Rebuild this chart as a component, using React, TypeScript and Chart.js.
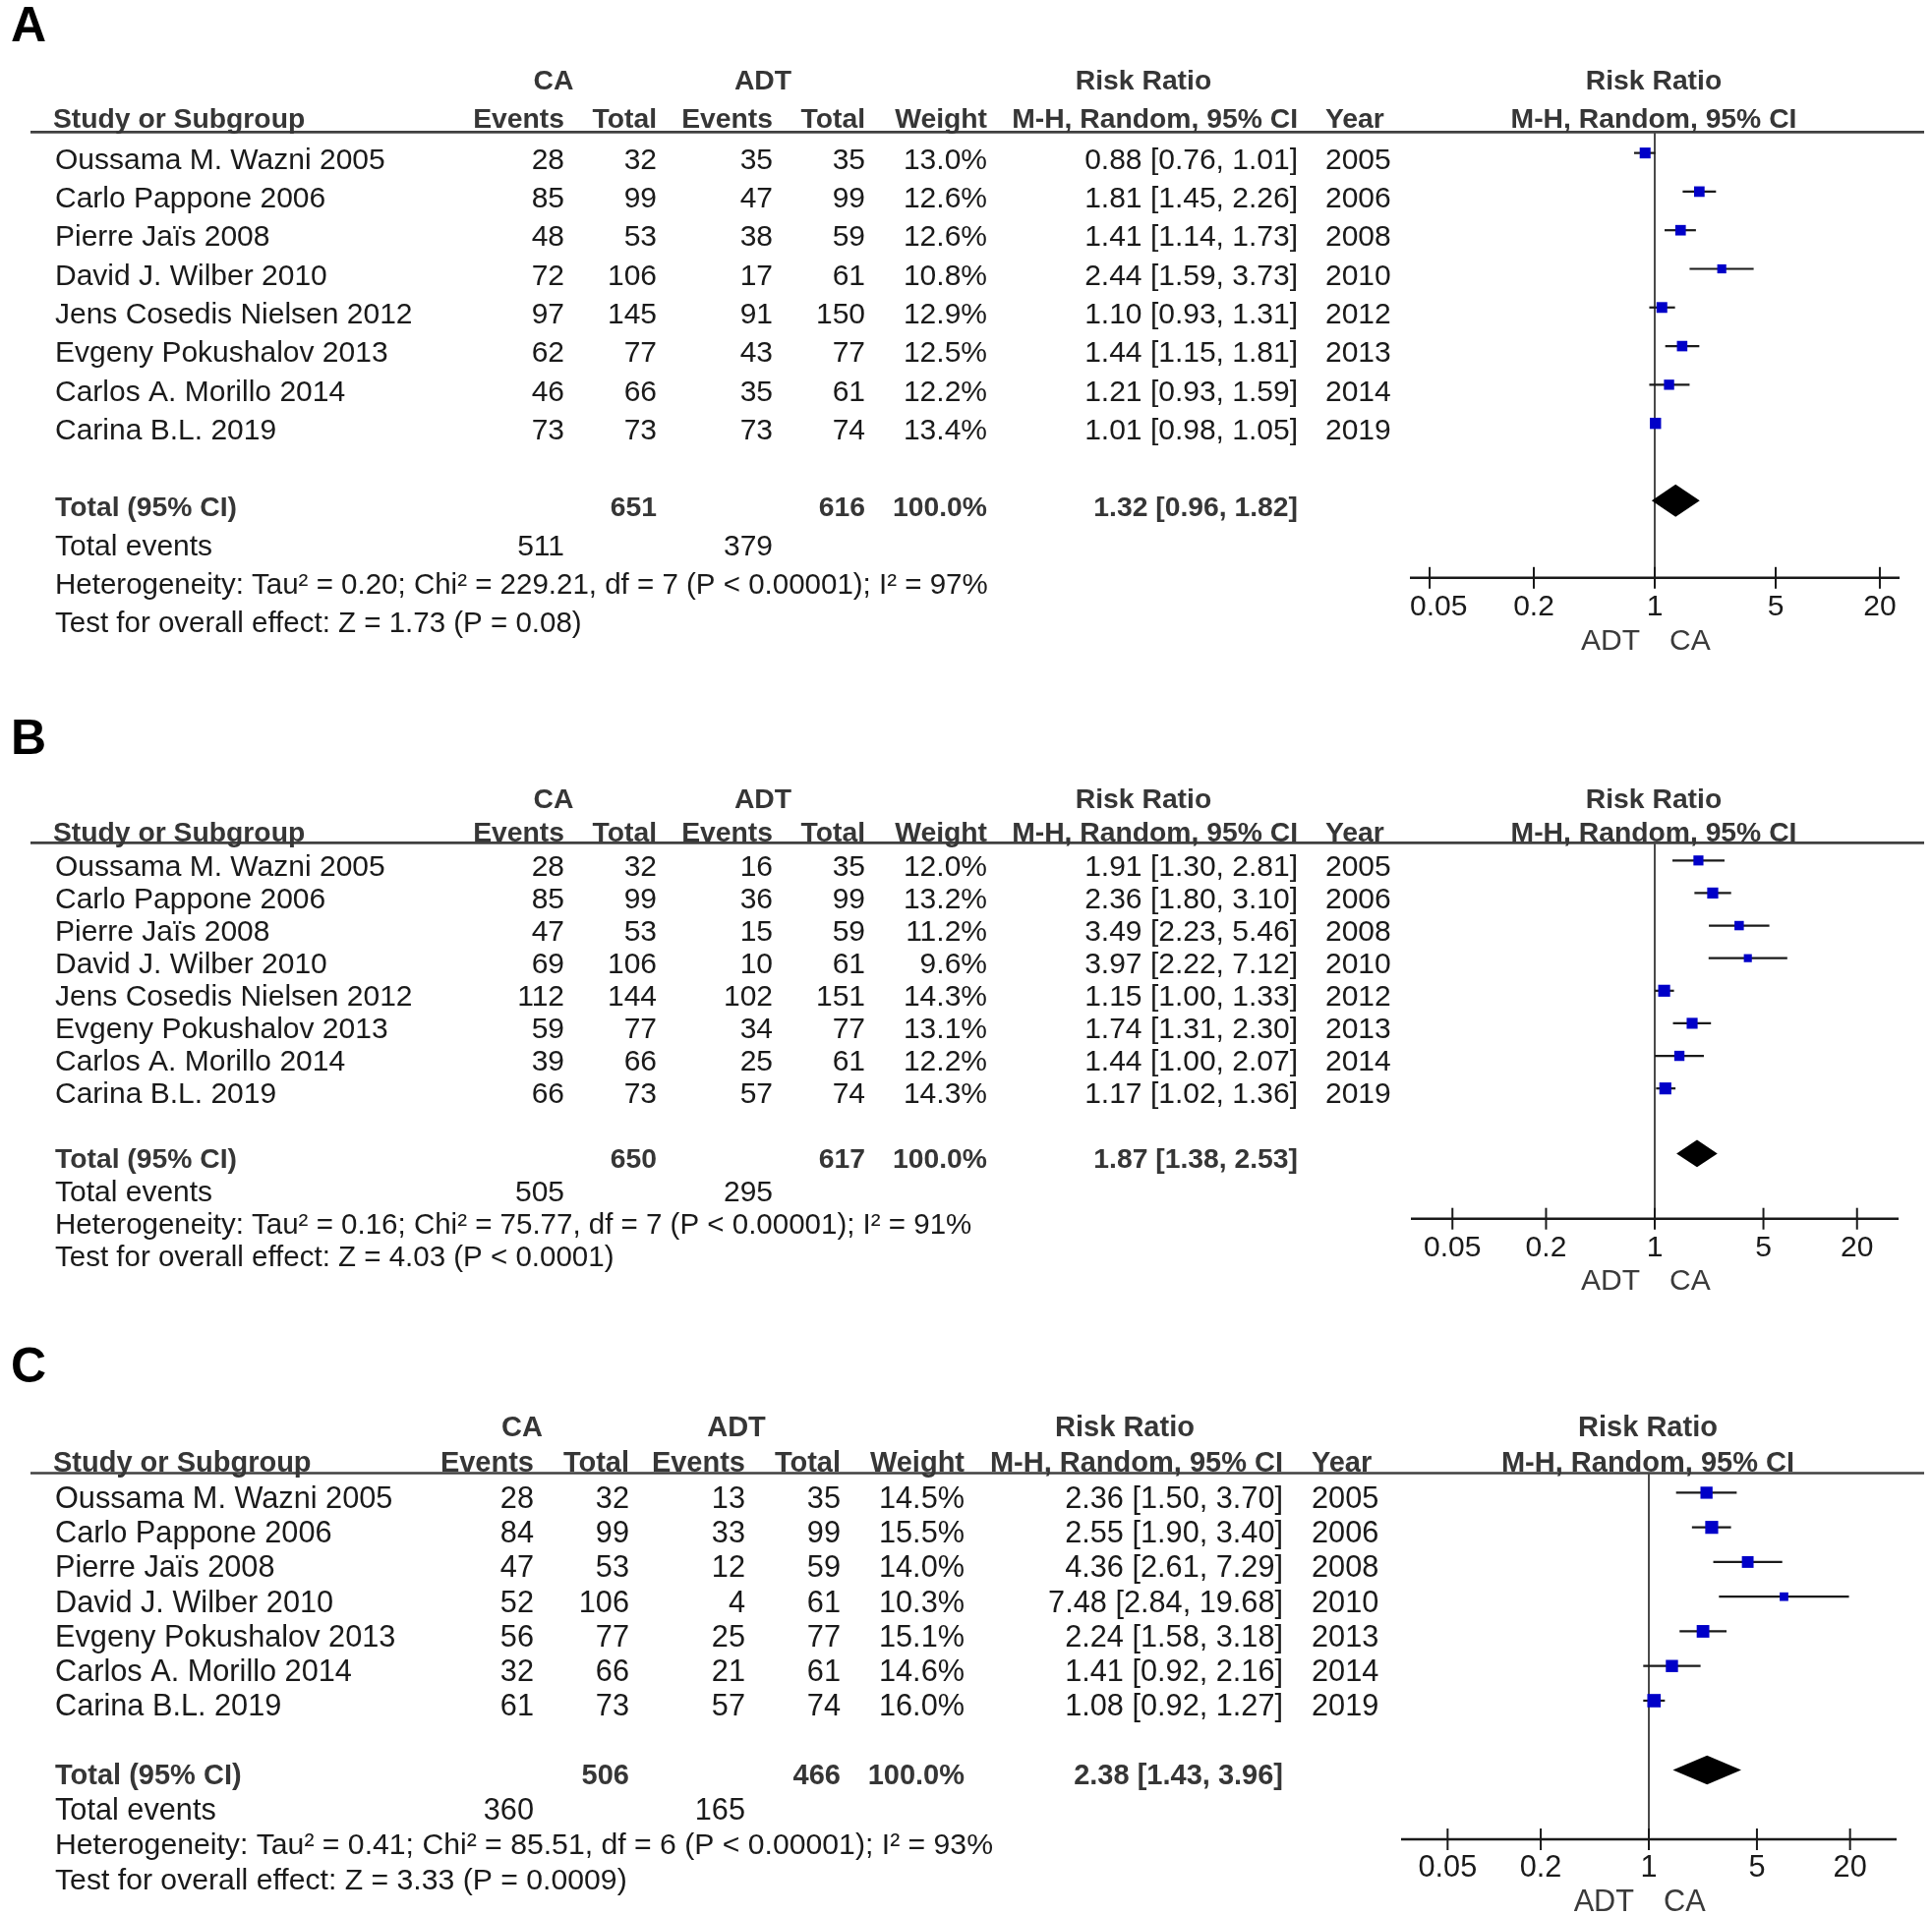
import React, { useEffect, useRef } from "react";
import { Chart, registerables } from "chart.js";

Chart.register(...registerables);

// ---------------- DATA ----------------
const namesAB = [
  "Oussama M. Wazni 2005",
  "Carlo Pappone 2006",
  "Pierre Jaïs 2008",
  "David J. Wilber 2010",
  "Jens Cosedis Nielsen 2012",
  "Evgeny Pokushalov 2013",
  "Carlos A. Morillo 2014",
  "Carina B.L. 2019",
];
const yearsAB = [2005, 2006, 2008, 2010, 2012, 2013, 2014, 2019];

const namesC = [
  "Oussama M. Wazni 2005",
  "Carlo Pappone 2006",
  "Pierre Jaïs 2008",
  "David J. Wilber 2010",
  "Evgeny Pokushalov 2013",
  "Carlos A. Morillo 2014",
  "Carina B.L. 2019",
];
const yearsC = [2005, 2006, 2008, 2010, 2013, 2014, 2019];

// Panel A
const caEventsA = [28, 85, 48, 72, 97, 62, 46, 73];
const caTotalA = [32, 99, 53, 106, 145, 77, 66, 73];
const adtEventsA = [35, 47, 38, 17, 91, 43, 35, 73];
const adtTotalA = [35, 99, 59, 61, 150, 77, 61, 74];
const weightA = [13.0, 12.6, 12.6, 10.8, 12.9, 12.5, 12.2, 13.4];
const rrA = [0.88, 1.81, 1.41, 2.44, 1.1, 1.44, 1.21, 1.01];
const lowA = [0.76, 1.45, 1.14, 1.59, 0.93, 1.15, 0.93, 0.98];
const highA = [1.01, 2.26, 1.73, 3.73, 1.31, 1.81, 1.59, 1.05];
const totalsA = [651, 616];
const totalEventsA = [511, 379];
const pooledA = [1.32, 0.96, 1.82];
const hetA = "Heterogeneity: Tau² = 0.20; Chi² = 229.21, df = 7 (P < 0.00001); I² = 97%";
const testA = "Test for overall effect: Z = 1.73 (P = 0.08)";

// Panel B
const caEventsB = [28, 85, 47, 69, 112, 59, 39, 66];
const caTotalB = [32, 99, 53, 106, 144, 77, 66, 73];
const adtEventsB = [16, 36, 15, 10, 102, 34, 25, 57];
const adtTotalB = [35, 99, 59, 61, 151, 77, 61, 74];
const weightB = [12.0, 13.2, 11.2, 9.6, 14.3, 13.1, 12.2, 14.3];
const rrB = [1.91, 2.36, 3.49, 3.97, 1.15, 1.74, 1.44, 1.17];
const lowB = [1.3, 1.8, 2.23, 2.22, 1.0, 1.31, 1.0, 1.02];
const highB = [2.81, 3.1, 5.46, 7.12, 1.33, 2.3, 2.07, 1.36];
const totalsB = [650, 617];
const totalEventsB = [505, 295];
const pooledB = [1.87, 1.38, 2.53];
const hetB = "Heterogeneity: Tau² = 0.16; Chi² = 75.77, df = 7 (P < 0.00001); I² = 91%";
const testB = "Test for overall effect: Z = 4.03 (P < 0.0001)";

// Panel C
const caEventsC = [28, 84, 47, 52, 56, 32, 61];
const caTotalC = [32, 99, 53, 106, 77, 66, 73];
const adtEventsC = [13, 33, 12, 4, 25, 21, 57];
const adtTotalC = [35, 99, 59, 61, 77, 61, 74];
const weightC = [14.5, 15.5, 14.0, 10.3, 15.1, 14.6, 16.0];
const rrC = [2.36, 2.55, 4.36, 7.48, 2.24, 1.41, 1.08];
const lowC = [1.5, 1.9, 2.61, 2.84, 1.58, 0.92, 0.92];
const highC = [3.7, 3.4, 7.29, 19.68, 3.18, 2.16, 1.27];
const totalsC = [506, 466];
const totalEventsC = [360, 165];
const pooledC = [2.38, 1.43, 3.96];
const hetC = "Heterogeneity: Tau² = 0.41; Chi² = 85.51, df = 6 (P < 0.00001); I² = 93%";
const testC = "Test for overall effect: Z = 3.33 (P = 0.0009)";

const tickValues = [0.05, 0.2, 1, 5, 20];
const tickLabels = ["0.05", "0.2", "1", "5", "20"];

// ---------------- LAYOUT / STYLE ----------------
const W = 1965;
const FONT = "'Liberation Sans', Arial, Helvetica, sans-serif";
const COLOR_TXT = "#1a1a1a";
const COLOR_BOLD = "#363636";

const colsAB = { name: 56, caE: 574, caT: 668, adtE: 786, adtT: 880, weight: 1004, ci: 1320, year: 1348, hCA: 563, hADT: 776, hRR: 1163 };
const colsC = { name: 56, caE: 543, caT: 640, adtE: 758, adtT: 855, weight: 981, ci: 1305, year: 1334, hCA: 531, hADT: 749, hRR: 1144 };

const layoutA = { top: 0, height: 700, lineY: 134.4, axisY: 587.8, left: 1434, right: 1932, xMin: 1 / 26, xMax: 26, yMin: -0.54, textOff: 5.5, letterY: 24, cols: colsAB, reg: 30, bold: 28.3, foot: 29.5 };
const layoutB = { top: 700, height: 640, lineY: 857.4, axisY: 1239.7, left: 1435, right: 1931, xMin: 1 / 37, xMax: 37, yMin: -0.54, textOff: 4.5, letterY: 749, cols: colsAB, reg: 30, bold: 28.3, foot: 29.5 };
const layoutC = { top: 1340, height: 608, lineY: 1498.5, axisY: 1871, left: 1425, right: 1929, xMin: 1 / 40, xMax: 40, yMin: -0.565, textOff: 4.5, letterY: 1388.5, cols: colsC, reg: 30.7, bold: 29, foot: 30.2 };

const panels = [
  { letter: "A", names: namesAB, years: yearsAB, caE: caEventsA, caT: caTotalA, adtE: adtEventsA, adtT: adtTotalA, weight: weightA, rr: rrA, lo: lowA, hi: highA, totals: totalsA, events: totalEventsA, pooled: pooledA, het: hetA, test: testA, L: layoutA },
  { letter: "B", names: namesAB, years: yearsAB, caE: caEventsB, caT: caTotalB, adtE: adtEventsB, adtT: adtTotalB, weight: weightB, rr: rrB, lo: lowB, hi: highB, totals: totalsB, events: totalEventsB, pooled: pooledB, het: hetB, test: testB, L: layoutB },
  { letter: "C", names: namesC, years: yearsC, caE: caEventsC, caT: caTotalC, adtE: adtEventsC, adtT: adtTotalC, weight: weightC, rr: rrC, lo: lowC, hi: highC, totals: totalsC, events: totalEventsC, pooled: pooledC, het: hetC, test: testC, L: layoutC },
];

const fmtCI = (a: number, b: number, c: number) => `${a.toFixed(2)} [${b.toFixed(2)}, ${c.toFixed(2)}]`;

function txt(ctx: CanvasRenderingContext2D, s: string, x: number, yCenter: number, align: CanvasTextAlign, bold: boolean, size: number, color: string) {
  ctx.font = `${bold ? "bold " : ""}${size}px ${FONT}`;
  ctx.fillStyle = color;
  ctx.textAlign = align;
  ctx.textBaseline = "alphabetic";
  ctx.fillText(s, x, yCenter + size * 0.358);
}

function makeConfig(p: any): any {
  const L = p.L;
  const lineY = L.lineY - L.top;
  const axisY = L.axisY - L.top;
  const n = p.names.length;
  const C = L.cols;
  const REG = L.reg;
  const BOLD = L.bold;

  const forestPlugin = {
    id: "forest" + p.letter,
    beforeDatasetsDraw(chart: any) {
      const ctx: CanvasRenderingContext2D = chart.ctx;
      const xs = chart.scales.x;
      const ys = chart.scales.y;
      ctx.save();
      // header rule
      ctx.strokeStyle = "#404040";
      ctx.lineWidth = 2.6;
      ctx.beginPath();
      ctx.moveTo(31, chart.chartArea.top);
      ctx.lineTo(1957, chart.chartArea.top);
      ctx.stroke();
      // line of no effect
      const x1 = xs.getPixelForValue(1);
      ctx.strokeStyle = "#4a4a4a";
      ctx.lineWidth = 2;
      ctx.beginPath();
      ctx.moveTo(x1, chart.chartArea.top);
      ctx.lineTo(x1, chart.chartArea.bottom);
      ctx.stroke();
      // confidence intervals
      ctx.strokeStyle = "#1a1a1a";
      ctx.lineWidth = 2.2;
      for (let i = 0; i < n; i++) {
        const y = ys.getPixelForValue(i);
        ctx.beginPath();
        ctx.moveTo(xs.getPixelForValue(p.lo[i]), y);
        ctx.lineTo(xs.getPixelForValue(p.hi[i]), y);
        ctx.stroke();
      }
      ctx.restore();
    },
    afterDatasetsDraw(chart: any) {
      const ctx: CanvasRenderingContext2D = chart.ctx;
      const xs = chart.scales.x;
      const ys = chart.scales.y;
      const off = L.textOff;
      const area = chart.chartArea;
      ctx.save();
      // pooled diamond
      const yT = n + 1;
      ctx.fillStyle = "#000";
      ctx.beginPath();
      ctx.moveTo(xs.getPixelForValue(p.pooled[1]), ys.getPixelForValue(yT));
      ctx.lineTo(xs.getPixelForValue(p.pooled[0]), ys.getPixelForValue(yT - 0.42));
      ctx.lineTo(xs.getPixelForValue(p.pooled[2]), ys.getPixelForValue(yT));
      ctx.lineTo(xs.getPixelForValue(p.pooled[0]), ys.getPixelForValue(yT + 0.42));
      ctx.closePath();
      ctx.fill();

      // x axis
      ctx.strokeStyle = "#1a1a1a";
      ctx.lineWidth = 2.5;
      ctx.beginPath();
      ctx.moveTo(area.left, area.bottom);
      ctx.lineTo(area.right, area.bottom);
      ctx.stroke();
      ctx.lineWidth = 2;
      tickValues.forEach((v, k) => {
        const x = xs.getPixelForValue(v);
        ctx.beginPath();
        ctx.moveTo(x, area.bottom - 11);
        ctx.lineTo(x, area.bottom + 11);
        ctx.stroke();
        ctx.font = `${REG}px ${FONT}`;
        const w = ctx.measureText(tickLabels[k]).width;
        const xl = Math.min(Math.max(x, area.left + w / 2), area.right - w / 2);
        txt(ctx, tickLabels[k], xl, area.bottom + 27.5, "center", false, REG, COLOR_TXT);
      });
      const x1 = xs.getPixelForValue(1);
      txt(ctx, "ADT", x1 - 15, area.bottom + 62, "right", false, REG, "#3a3a3a");
      txt(ctx, "CA", x1 + 15, area.bottom + 62, "left", false, REG, "#3a3a3a");

      // panel letter
      txt(ctx, p.letter, 11, L.letterY - L.top, "left", true, 50, "#000");

      // headers
      const h1 = ys.getPixelForValue(-1.91);
      const h2 = ys.getPixelForValue(-0.9);
      txt(ctx, "CA", C.hCA, h1, "center", true, BOLD, COLOR_BOLD);
      txt(ctx, "ADT", C.hADT, h1, "center", true, BOLD, COLOR_BOLD);
      txt(ctx, "Risk Ratio", C.hRR, h1, "center", true, BOLD, COLOR_BOLD);
      txt(ctx, "Risk Ratio", x1 - 1, h1, "center", true, BOLD, COLOR_BOLD);
      txt(ctx, "Study or Subgroup", C.name - 2, h2, "left", true, BOLD, COLOR_BOLD);
      txt(ctx, "Events", C.caE, h2, "right", true, BOLD, COLOR_BOLD);
      txt(ctx, "Total", C.caT, h2, "right", true, BOLD, COLOR_BOLD);
      txt(ctx, "Events", C.adtE, h2, "right", true, BOLD, COLOR_BOLD);
      txt(ctx, "Total", C.adtT, h2, "right", true, BOLD, COLOR_BOLD);
      txt(ctx, "Weight", C.weight, h2, "right", true, BOLD, COLOR_BOLD);
      txt(ctx, "M-H, Random, 95% CI", C.ci, h2, "right", true, BOLD, COLOR_BOLD);
      txt(ctx, "Year", C.year, h2, "left", true, BOLD, COLOR_BOLD);
      txt(ctx, "M-H, Random, 95% CI", x1 - 1, h2, "center", true, BOLD, COLOR_BOLD);

      // study rows
      for (let i = 0; i < n; i++) {
        const y = ys.getPixelForValue(i) + off;
        txt(ctx, p.names[i], C.name, y, "left", false, REG, COLOR_TXT);
        txt(ctx, String(p.caE[i]), C.caE, y, "right", false, REG, COLOR_TXT);
        txt(ctx, String(p.caT[i]), C.caT, y, "right", false, REG, COLOR_TXT);
        txt(ctx, String(p.adtE[i]), C.adtE, y, "right", false, REG, COLOR_TXT);
        txt(ctx, String(p.adtT[i]), C.adtT, y, "right", false, REG, COLOR_TXT);
        txt(ctx, p.weight[i].toFixed(1) + "%", C.weight, y, "right", false, REG, COLOR_TXT);
        txt(ctx, fmtCI(p.rr[i], p.lo[i], p.hi[i]), C.ci, y, "right", false, REG, COLOR_TXT);
        txt(ctx, String(p.years[i]), C.year, y, "left", false, REG, COLOR_TXT);
      }

      // total rows
      const yTot = ys.getPixelForValue(n + 1) + off;
      txt(ctx, "Total (95% CI)", C.name, yTot, "left", true, BOLD, COLOR_BOLD);
      txt(ctx, String(p.totals[0]), C.caT, yTot, "right", true, BOLD, COLOR_BOLD);
      txt(ctx, String(p.totals[1]), C.adtT, yTot, "right", true, BOLD, COLOR_BOLD);
      const wSum = p.weight.reduce((a: number, b: number) => a + b, 0);
      txt(ctx, (Math.round(wSum / 10) * 10).toFixed(1) + "%", C.weight, yTot, "right", true, BOLD, COLOR_BOLD);
      txt(ctx, fmtCI(p.pooled[0], p.pooled[1], p.pooled[2]), C.ci, yTot, "right", true, BOLD, COLOR_BOLD);

      const yEv = ys.getPixelForValue(n + 2) + off;
      txt(ctx, "Total events", C.name, yEv, "left", false, REG, COLOR_TXT);
      txt(ctx, String(p.events[0]), C.caE, yEv, "right", false, REG, COLOR_TXT);
      txt(ctx, String(p.events[1]), C.adtE, yEv, "right", false, REG, COLOR_TXT);
      txt(ctx, p.het, C.name, ys.getPixelForValue(n + 3) + off, "left", false, L.foot, COLOR_TXT);
      txt(ctx, p.test, C.name, ys.getPixelForValue(n + 4) + off, "left", false, L.foot, COLOR_TXT);
      ctx.restore();
    },
  };

  return {
    type: "scatter",
    data: {
      datasets: [
        {
          data: p.rr.map((v: number, i: number) => ({ x: v, y: i })),
          pointStyle: "rect",
          pointRadius: p.weight.map((w: number) => (w * 0.85) / Math.SQRT2),
          pointBackgroundColor: "#0000c8",
          pointBorderWidth: 0,
          pointBorderColor: "#0000c8",
          showLine: false,
          clip: false,
        },
      ],
    },
    options: {
      responsive: false,
      maintainAspectRatio: false,
      animation: false,
      devicePixelRatio: 1,
      events: [],
      layout: { padding: { left: L.left, right: W - L.right, top: lineY, bottom: L.height - axisY } },
      plugins: { legend: { display: false }, tooltip: { enabled: false } },
      scales: {
        x: { type: "logarithmic", min: L.xMin, max: L.xMax, display: false },
        y: { type: "linear", min: L.yMin, max: n + 3, reverse: true, display: false },
      },
    },
    plugins: [forestPlugin],
  };
}

function Panel({ p }: { p: any }) {
  const ref = useRef<HTMLCanvasElement>(null);
  useEffect(() => {
    if (!ref.current) return;
    const chart = new Chart(ref.current, makeConfig(p));
    return () => chart.destroy();
  }, [p]);
  return (
    <canvas
      ref={ref}
      width={W}
      height={p.L.height}
      style={{ display: "block", width: W, height: p.L.height }}
    />
  );
}

export default function App() {
  return (
    <div style={{ position: "absolute", left: 0, top: 0, width: W, height: 1948, background: "#fff" }}>
      {panels.map((p) => (
        <Panel key={p.letter} p={p} />
      ))}
    </div>
  );
}
